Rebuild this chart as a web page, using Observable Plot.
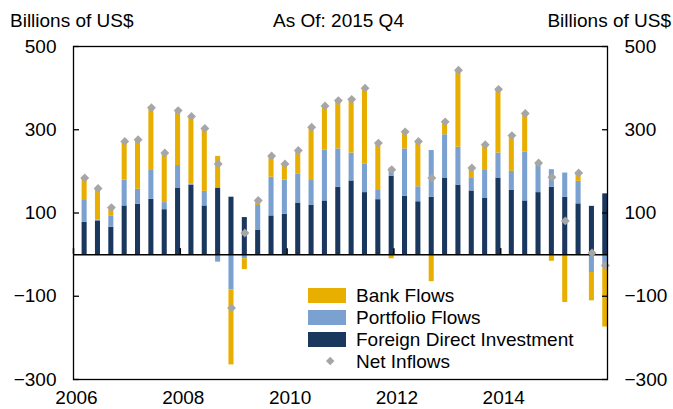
<!DOCTYPE html>
<html><head><meta charset="utf-8">
<script src="https://cdn.jsdelivr.net/npm/d3@7"></script>
<script src="https://cdn.jsdelivr.net/npm/@observablehq/plot@0.6"></script>
<style>
html,body{margin:0;padding:0;background:#fff;}
#wrap{position:relative;width:673px;height:409px;font-family:"Liberation Sans",Arial,sans-serif;color:#000;}
#wrap svg{position:absolute;left:0;top:0;}
.t{position:absolute;font-size:19px;line-height:19px;white-space:nowrap;}
.sw{position:absolute;left:308px;width:38px;height:15px;}
.dm{position:absolute;width:6.4px;height:6.4px;background:#A6A6A6;transform:rotate(45deg);}
</style></head>
<body>
<div id="wrap">
  <div id="chart"></div>
  <div class="t" style="left:10px;top:10.6px;">Billions of US$</div>
  <div class="t" style="left:273px;top:10.6px;">As Of: 2015 Q4</div>
  <div class="t" style="right:2px;top:10.6px;">Billions of US$</div>
  <div id="legend"></div>
</div>
<script>
// Data (billions of US$), quarterly 2006 Q1 – 2015 Q4
const years = ["2006","2008","2010","2012","2014"];
const seriesNames = ["Foreign Direct Investment","Portfolio Flows","Bank Flows"];
const legendNames = ["Bank Flows","Portfolio Flows","Foreign Direct Investment","Net Inflows"];
const colors = {"Foreign Direct Investment":"#1A375E","Portfolio Flows":"#7BA1D0","Bank Flows":"#E8AF00"};
const netColor = "#A6A6A6";
const fdi = [78,81,66,117,121,133,108,160,167,117, 160,138,89,58,93,97,124,119,129,162, 177,149,132,188,140,127,138,184,167,153, 136,184,155,129,149,162,138,122,116,146];
const portfolio = [52,2,26,62,36,71,17,54,2,35, -18,-85,-10,60,93,82,70,59,122,92, 67,68,24,20,114,36,112,104,91,30, 68,60,45,117,69,42,58,54,-43,-26];
const bank = [52,74,21,90,116,146,116,129,160,148, 76,-180,-26,12,50,39,55,126,104,114, 126,181,110,-10,41,110,-65,31,185,22, 57,152,84,91,0,-16,-115,22,-68,-148];
const net = [184,159,113,272,276,353,244,346,332,303, 218,-128,52,130,237,218,250,306,357,370, 373,400,268,204,295,272,184,319,443,208, 264,397,286,339,220,186,81,196,4,-26];
const yTicks = [-300,-100,100,300,500];

const rows = [];
fdi.forEach((v, i) => {
  rows.push({i, series: "Foreign Direct Investment", value: v});
  rows.push({i, series: "Portfolio Flows", value: portfolio[i]});
  rows.push({i, series: "Bank Flows", value: bank[i]});
});
const netRows = net.map((v, i) => ({i, value: v}));
const yearPos = years.map(y => (+y - 2006) * 4);

const chart = Plot.plot({
  width: 673, height: 409,
  marginLeft: 73, marginRight: 66, marginTop: 46, marginBottom: 30,
  x: {domain: [0, fdi.length], label: null},
  y: {domain: [-300, 500], label: null},
  color: {domain: seriesNames, range: seriesNames.map(s => colors[s])},
  style: {fontFamily: "'Liberation Sans', Arial, sans-serif", fontSize: "19px", color: "#000", background: "transparent"},
  marks: [
    Plot.rectY(rows, Plot.stackY({x1: "i", x2: d => d.i + 1, y: "value", fill: "series", order: null, insetLeft: 8.6, insetRight: -0.3})),
    Plot.ruleY([0], {stroke: "#000", strokeWidth: 1.5}),
    Plot.ruleX(yearPos, {x: d => d, y1: 0, y2: 0, insetTop: -6, stroke: "#000", strokeWidth: 1.5}),
    Plot.dot(netRows, {x: d => d.i + 0.84, y: "value", symbol: "diamond2", r: 4, fill: netColor}),
    Plot.frame({stroke: "#000", strokeWidth: 1.3}),
    Plot.axisY({anchor: "left", ticks: yTicks, tickSize: -6, tickPadding: 23, fontSize: 19, label: null, strokeWidth: 1.3}),
    Plot.axisY({anchor: "right", ticks: yTicks, tickSize: -6, tickPadding: 23, fontSize: 19, label: null, strokeWidth: 1.3}),
    Plot.axisX({anchor: "bottom", ticks: yearPos, tickFormat: d => years[yearPos.indexOf(d)], tickSize: 0, tickPadding: 11, dx: 3, fontSize: 19, label: null})
  ]
});
document.getElementById("chart").appendChild(chart);

// Legend
const leg = document.getElementById("legend");
legendNames.forEach((name, k) => {
  const cy = 295 + 22.2 * k;
  if (colors[name]) {
    const s = document.createElement("div");
    s.className = "sw"; s.style.top = (cy - 7.5) + "px"; s.style.background = colors[name];
    leg.appendChild(s);
  } else {
    const d = document.createElement("div");
    d.className = "dm"; d.style.left = (330 - 3.2) + "px"; d.style.top = (cy - 3.2) + "px";
    leg.appendChild(d);
  }
  const t = document.createElement("div");
  t.className = "t"; t.style.left = "356px"; t.style.top = (cy - 9.3) + "px"; t.textContent = name;
  leg.appendChild(t);
});
</script>
</body></html>
